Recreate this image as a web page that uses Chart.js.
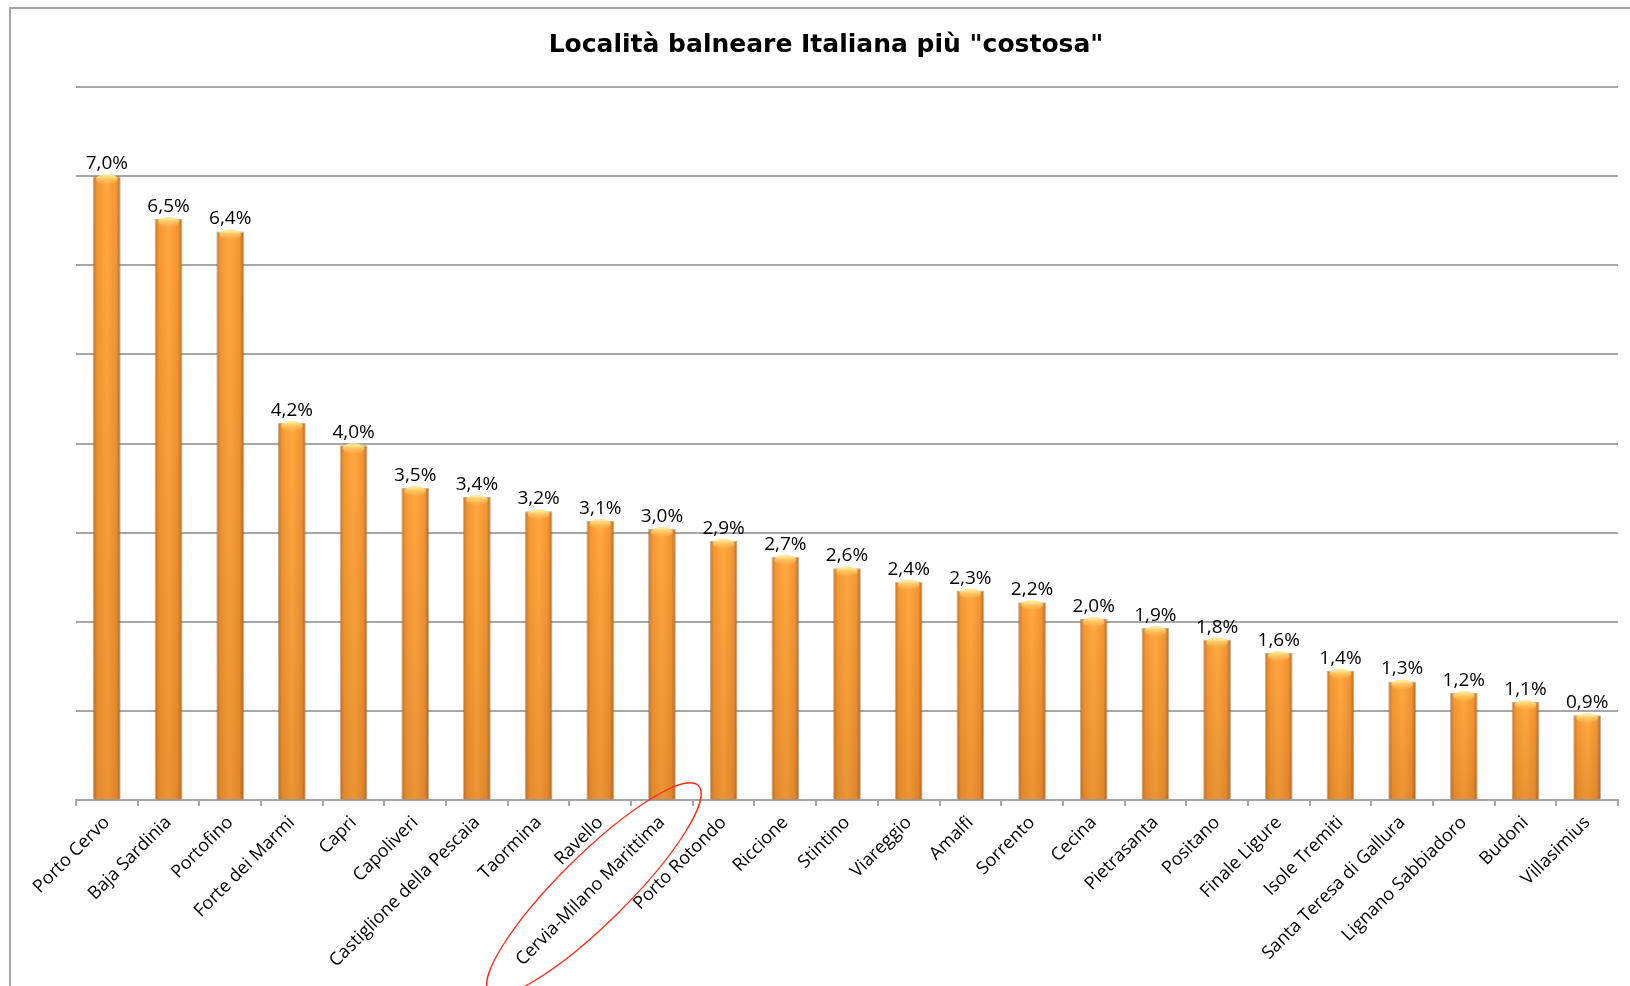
<!DOCTYPE html>
<html>
<head>
<meta charset="utf-8">
<script src="https://cdn.jsdelivr.net/npm/chart.js@4"></script>
<style>
  html, body { margin: 0; padding: 0; background: #fff; overflow: hidden; }
  #page { position: relative; width: 1630px; height: 986px; overflow: hidden; }
  #frame { position: absolute; left: 9px; top: 7px; width: 1700px; height: 1100px; border: 2px solid #a6a6a6; }
  #grafico { position: absolute; left: 0; top: 0; }
</style>
</head>
<body>
<div id="page">
  <div id="frame"></div>
  <canvas id="grafico" width="1630" height="986"></canvas>
</div>
<script>
// localita' (asse x)
const localita = [
  'Porto Cervo', 'Baja Sardinia', 'Portofino', 'Forte dei Marmi', 'Capri',
  'Capoliveri', 'Castiglione della Pescaia', 'Taormina', 'Ravello', 'Cervia-Milano Marittima',
  'Porto Rotondo', 'Riccione', 'Stintino', 'Viareggio', 'Amalfi',
  'Sorrento', 'Cecina', 'Pietrasanta', 'Positano', 'Finale Ligure',
  'Isole Tremiti', 'Santa Teresa di Gallura', 'Lignano Sabbiadoro', 'Budoni', 'Villasimius'
];

// altezza barre (%)
const percentuali = [
  7.0, 6.52, 6.38, 4.23, 3.98,
  3.5, 3.4, 3.24, 3.13, 3.04,
  2.91, 2.73, 2.6, 2.45, 2.35,
  2.22, 2.03, 1.93, 1.8, 1.65,
  1.45, 1.33, 1.2, 1.1, 0.95
];

// etichette sopra le barre
const etichette = [
  '7,0%', '6,5%', '6,4%', '4,2%', '4,0%',
  '3,5%', '3,4%', '3,2%', '3,1%', '3,0%',
  '2,9%', '2,7%', '2,6%', '2,4%', '2,3%',
  '2,2%', '2,0%', '1,9%', '1,8%', '1,6%',
  '1,4%', '1,3%', '1,2%', '1,1%', '0,9%'
];

const evidenziata = 9; // Cervia-Milano Marittima cerchiata in rosso

const grigio = '#a6a6a6';

// riempimento arancio con sfumatura orizzontale
function coloreBarra(ctx) {
  const chart = ctx.chart;
  const xs = chart.scales.x;
  if (!xs || !chart.chartArea) return '#f59b36';
  const cx = xs.getPixelForValue(ctx.dataIndex);
  const w = xs.width / localita.length * 0.45;
  const g = chart.ctx.createLinearGradient(cx - w / 2, 0, cx + w / 2, 0);
  g.addColorStop(0, '#c9711f');
  g.addColorStop(0.15, '#f39834');
  g.addColorStop(0.5, '#ffa940');
  g.addColorStop(0.85, '#f29433');
  g.addColorStop(1, '#b5641c');
  return g;
}

const ritoccoBarre = {
  id: 'ritoccoBarre',
  afterDatasetsDraw(chart) {
    const ctx = chart.ctx;
    const meta = chart.getDatasetMeta(0);
    const base = chart.scales.y.getPixelForValue(0);
    ctx.save();
    meta.data.forEach((el, i) => {
      const left = el.x - el.width / 2;
      // scurisce verso il basso
      const gv = ctx.createLinearGradient(0, el.y, 0, base);
      gv.addColorStop(0, 'rgba(140,60,0,0)');
      gv.addColorStop(1, 'rgba(140,60,0,0.18)');
      ctx.fillStyle = gv;
      ctx.fillRect(left + 1, el.y + 1, el.width - 2, base - el.y - 1);
      // riflesso in cima
      const gt = ctx.createLinearGradient(0, el.y, 0, el.y + 9);
      gt.addColorStop(0, 'rgba(255,230,140,0.9)');
      gt.addColorStop(1, 'rgba(255,200,90,0)');
      ctx.fillStyle = gt;
      ctx.beginPath();
      ctx.ellipse(el.x, el.y + 3, el.width / 2 - 3, 5, 0, 0, Math.PI * 2);
      ctx.fill();

      // valore sopra la barra
      ctx.fillStyle = '#000';
      ctx.font = '19px "Open Sans"';
      ctx.textAlign = 'center';
      ctx.textBaseline = 'alphabetic';
      ctx.fillText(etichette[i], el.x, el.y - 7);
    });
    ctx.restore();
  }
};

// ellisse rossa attorno alla localita' evidenziata
const cerchioRosso = {
  id: 'cerchioRosso',
  afterDraw(chart) {
    const xs = chart.scales.x;
    const cx = xs.getPixelForValue(evidenziata) - 68;
    const cy = xs.top + 89;
    const ctx = chart.ctx;
    ctx.save();
    ctx.strokeStyle = '#ff2a14';
    ctx.lineWidth = 1.3;
    ctx.beginPath();
    ctx.ellipse(cx, cy, 147, 34, -0.78, 0, Math.PI * 2);
    ctx.stroke();
    ctx.restore();
  }
};

new Chart(document.getElementById('grafico'), {
  type: 'bar',
  data: {
    labels: localita,
    datasets: [{
      data: percentuali,
      backgroundColor: coloreBarra,
      borderColor: 'rgba(120,85,50,0.45)',
      borderWidth: 1,
      borderSkipped: 'bottom',
      categoryPercentage: 1,
      barPercentage: 0.45
    }]
  },
  options: {
    responsive: false,
    animation: false,
    layout: { padding: { left: 34, right: 12, top: 0, bottom: 0 } },
    plugins: {
      legend: { display: false },
      tooltip: { enabled: false },
      title: {
        display: true,
        text: 'Località balneare Italiana più "costosa"',
        color: '#000',
        font: { family: '"DejaVu Sans"', size: 25, weight: 'bold', lineHeight: 1.2 },
        padding: { top: 30, bottom: 27 }
      }
    },
    scales: {
      x: {
        offset: true,
        afterFit(scale) { scale.height = 186; },
        grid: { drawOnChartArea: false, drawTicks: true, tickLength: 6, color: grigio, lineWidth: 2 },
        border: { display: true, color: grigio, width: 2 },
        ticks: {
          color: '#000',
          font: { family: '"Open Sans"', size: 18 },
          maxRotation: 45,
          minRotation: 45,
          autoSkip: false,
          padding: 6
        }
      },
      y: {
        min: 0,
        max: 8,
        afterFit(scale) { scale.width = 42; },
        grid: { color: grigio, lineWidth: 2, drawTicks: false },
        border: { display: false },
        ticks: { display: false, stepSize: 1 }
      }
    }
  },
  plugins: [ritoccoBarre, cerchioRosso]
});
</script>
</body>
</html>
